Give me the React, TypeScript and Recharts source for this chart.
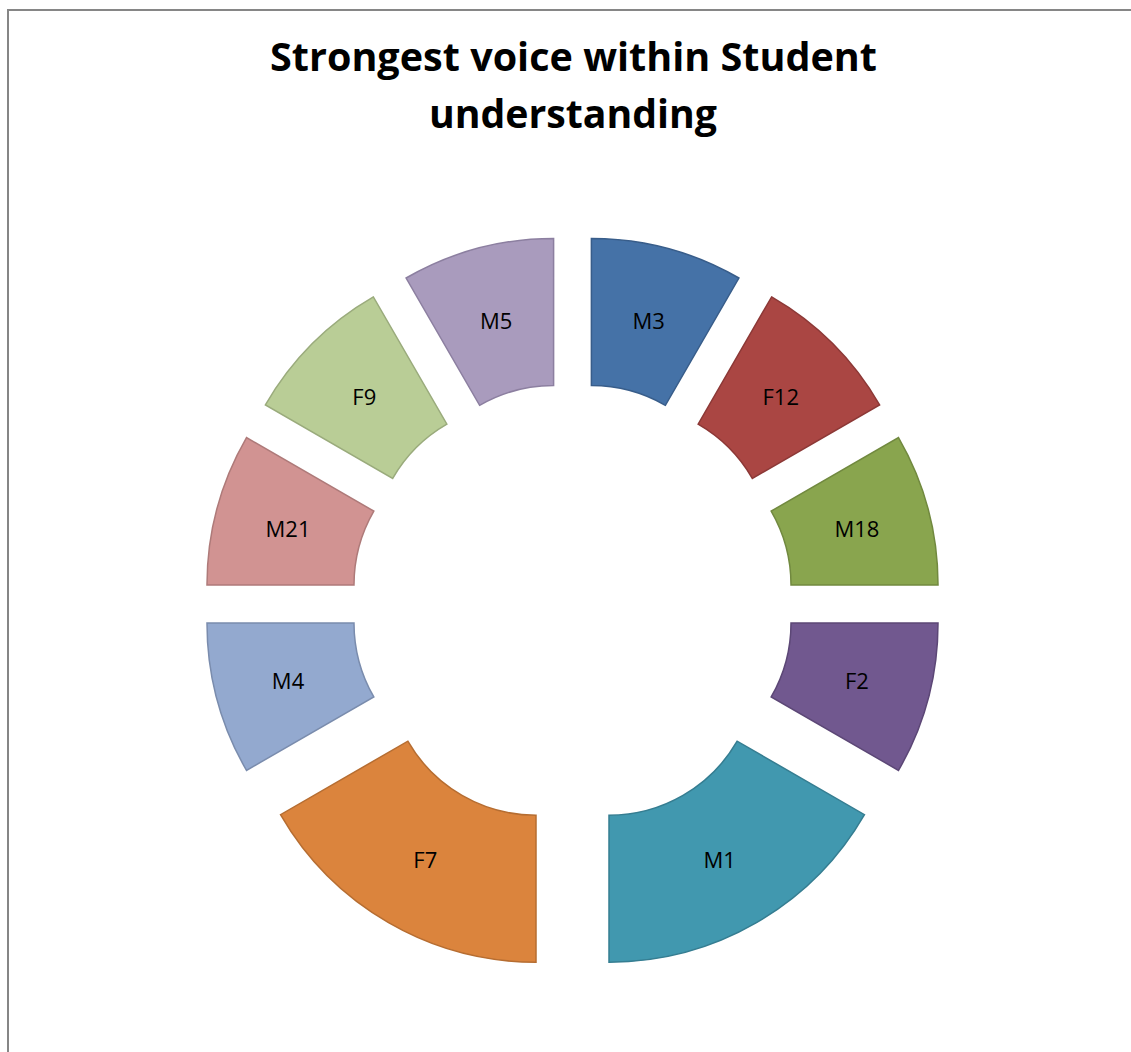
import React from 'react';
import { PieChart, Pie, Cell } from 'recharts';

const speakers = ['M3', 'F12', 'M18', 'F2', 'M1', 'F7', 'M4', 'M21', 'F9', 'M5'];
const shares = [1, 1, 1, 1, 2, 2, 1, 1, 1, 1];
const fills = ['#4572A7', '#AA4643', '#89A54E', '#71588F', '#4198AF', '#DB843D', '#93A9CF', '#D19392', '#B9CD96', '#A99BBD'];
const strokes = ['#385D8A', '#8C3836', '#71893F', '#5C4776', '#357D91', '#B66D31', '#7A8CAD', '#AE7A79', '#9AAB7C', '#8C7FA0'];

const W = 1131;
const H = 1052;
const CX = 572.5;
const CY = 604;
const OUTER = 295;
const INNER = 148;
const EXPLODE = 73;
const RAD = Math.PI / 180;

const data = speakers.map((name, i) => ({ name, value: shares[i] }));
const total = shares.reduce((a, b) => a + b, 0);

// clockwise angle from 12 o'clock of each slice's middle
const midAngles = shares.map((v, i) => {
  const before = shares.slice(0, i).reduce((a, b) => a + b, 0);
  return ((before + v / 2) / total) * 360;
});

function sliceLabel(target: number) {
  return (props: any) => {
    if (props.index !== target) return null;
    const r = (props.innerRadius + props.outerRadius) / 2;
    const x = props.cx + r * Math.cos(-props.midAngle * RAD);
    const y = props.cy + r * Math.sin(-props.midAngle * RAD);
    return (
      <text x={x} y={y} textAnchor="middle" dominantBaseline="central" fill="#000" fontSize={22} fontFamily="'Open Sans', sans-serif">
        {props.name}
      </text>
    );
  };
}

export default function App() {
  return (
    <div style={{ position: 'fixed', left: 0, top: 0, width: W, height: H, overflow: 'hidden', background: '#fff' }}>
      <div style={{ position: 'absolute', left: 7, top: 9, width: 1140, height: 1060, border: '2px solid #868686' }} />
      <svg style={{ position: 'absolute', left: 0, top: 0 }} width={W} height={160}>
        <text x={573.5} y={71} textAnchor="middle" fontSize={39} fontWeight="bold" fontFamily="'Open Sans', sans-serif" textLength={607} lengthAdjust="spacingAndGlyphs" fill="#000">
          Strongest voice within Student
        </text>
        <text x={573} y={128} textAnchor="middle" fontSize={39} fontWeight="bold" fontFamily="'Open Sans', sans-serif" textLength={288} lengthAdjust="spacingAndGlyphs" fill="#000">
          understanding
        </text>
      </svg>
      <div style={{ position: 'absolute', left: 0, top: 0 }}>
        <PieChart width={W} height={H} margin={{ top: 0, right: 0, bottom: 0, left: 0 }}>
          {speakers.map((name, i) => (
            <Pie
              key={name}
              data={data}
              dataKey="value"
              nameKey="name"
              cx={CX + EXPLODE * Math.sin(midAngles[i] * RAD)}
              cy={CY - EXPLODE * Math.cos(midAngles[i] * RAD)}
              innerRadius={INNER}
              outerRadius={OUTER}
              startAngle={90}
              endAngle={-270}
              isAnimationActive={false}
              labelLine={false}
              label={sliceLabel(i)}
            >
              {data.map((d, j) => (
                <Cell
                  key={d.name}
                  fill={j === i ? fills[j] : 'none'}
                  stroke={j === i ? strokes[j] : 'none'}
                  strokeWidth={1.5}
                />
              ))}
            </Pie>
          ))}
        </PieChart>
      </div>
    </div>
  );
}
